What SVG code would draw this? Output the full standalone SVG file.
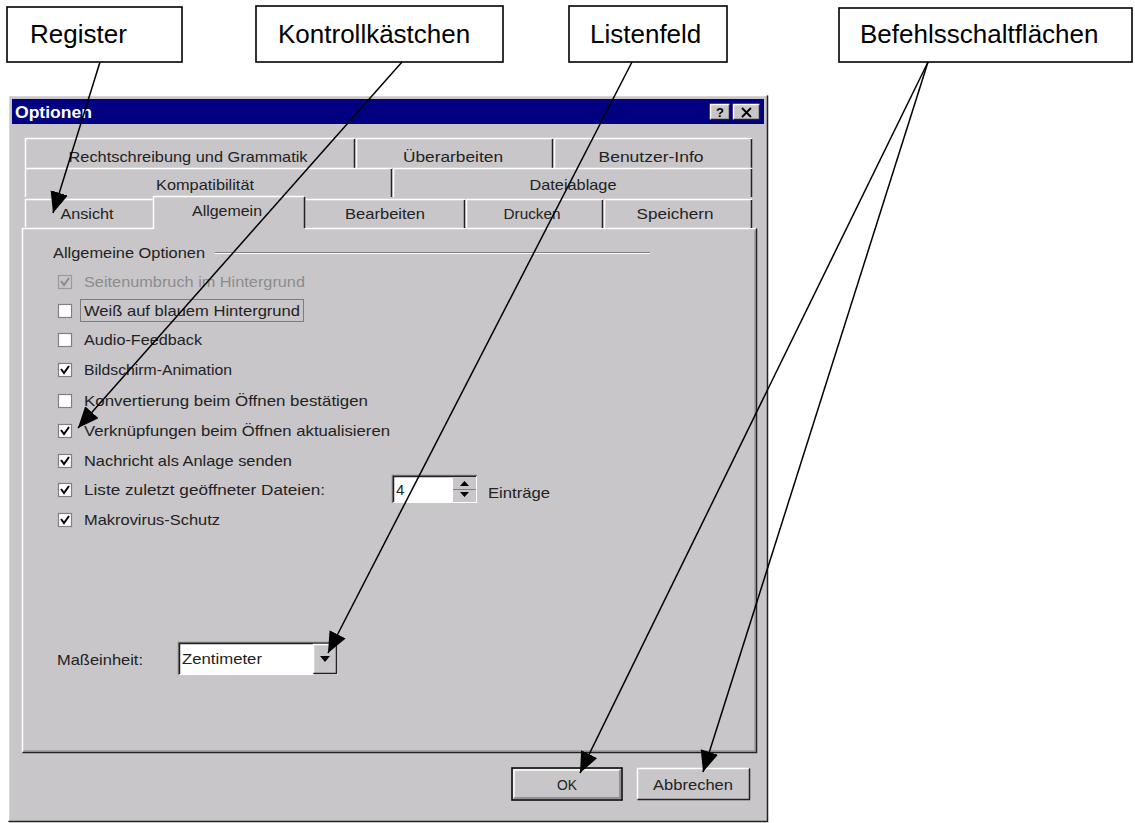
<svg xmlns="http://www.w3.org/2000/svg" width="1135" height="823" viewBox="0 0 1135 823">
<defs>
<marker id="arr" markerUnits="userSpaceOnUse" markerWidth="22" markerHeight="20" refX="21" refY="9" orient="auto">
<path d="M0,0 L21,9 L0,18 z" fill="#000"/>
</marker>
</defs>
<style>
.lbl{fill:#fff;stroke:#000;stroke-width:1.6}
.lt{font-family:"Liberation Sans",Arial,sans-serif;font-size:26px;fill:#000}
.dt{font-family:"Liberation Sans",Arial,sans-serif;font-size:15px;fill:#222}
.face{fill:#c8c6c9}
.hi{stroke:#fff;stroke-width:1.5;fill:none}
.sh{stroke:#808080;stroke-width:1.5;fill:none}
.dk{stroke:#222;stroke-width:1.5;fill:none}
.cb{fill:#fff;stroke:#808080;stroke-width:1.2}
.ck{fill:none;stroke:#000;stroke-width:2}
.con{stroke:#000;stroke-width:1.5;fill:none;marker-end:url(#arr)}
</style>
<rect width="1135" height="823" fill="#fff"/>

<g id="dialog">
<rect x="8" y="95" width="760" height="727" class="face"/>
<path d="M8.5,821 V95.5 H767" class="hi"/>
<path d="M767.5,95.5 V821.5 H8.5" class="dk"/>
<rect x="12" y="99" width="752" height="25" fill="#000080"/>
<text x="15" y="118" font-family="Liberation Sans,Arial,sans-serif" font-size="17" font-weight="bold" fill="#fff" textLength="77" lengthAdjust="spacingAndGlyphs">Optionen</text>
<rect x="710" y="104" width="20" height="16" class="face"/>
<path d="M710.5,119.5 V104.5 H729.5" class="hi"/><path d="M729.5,104.5 V119.5 H710.5" class="dk"/>
<text x="720" y="117" text-anchor="middle" font-family="Liberation Sans,Arial,sans-serif" font-size="13" font-weight="bold" fill="#000">?</text>
<rect x="733" y="104" width="27" height="16" class="face"/>
<path d="M733.5,119.5 V104.5 H759.5" class="hi"/><path d="M759.5,104.5 V119.5 H733.5" class="dk"/>
<path d="M742,108 L751,117 M751,108 L742,117" stroke="#000" stroke-width="1.8"/>

<!-- tab page panel -->
<rect x="22" y="228" width="735" height="525" class="face"/>
<path d="M22.5,752 V228.5 H756" class="hi"/>
<path d="M756.5,228.5 V752.5 H22.5" class="dk"/>
<path d="M755,229.5 V751 H23.5" stroke="#808080" stroke-width="1" fill="none"/>

<!-- row 1 tabs -->
<g id="tab-rechtschreibung">
<path d="M25.5,168 V138.5 H355" class="hi"/><path d="M354.5,139 V168" class="dk"/>
<text x="188" y="162" text-anchor="middle" class="dt" textLength="239" lengthAdjust="spacingAndGlyphs">Rechtschreibung und Grammatik</text>
</g>
<g id="tab-ueberarbeiten">
<path d="M356.5,168 V138.5 H553" class="hi"/><path d="M552.5,139 V168" class="dk"/>
<text x="453" y="162" text-anchor="middle" class="dt" textLength="100" lengthAdjust="spacingAndGlyphs">Überarbeiten</text>
</g>
<g id="tab-benutzer">
<path d="M554.5,168 V138.5 H752" class="hi"/><path d="M751.5,139 V168" class="dk"/>
<text x="651" y="162" text-anchor="middle" class="dt" textLength="105" lengthAdjust="spacingAndGlyphs">Benutzer-Info</text>
</g>
<!-- row 2 tabs -->
<g id="tab-kompat">
<path d="M25.5,197 V168.5 H392" class="hi"/><path d="M391.5,169 V197" class="dk"/>
<text x="205" y="190" text-anchor="middle" class="dt" textLength="98" lengthAdjust="spacingAndGlyphs">Kompatibilität</text>
</g>
<g id="tab-dateiablage">
<path d="M393.5,197 V168.5 H752" class="hi"/><path d="M751.5,169 V197" class="dk"/>
<text x="573" y="190" text-anchor="middle" class="dt" textLength="87" lengthAdjust="spacingAndGlyphs">Dateiablage</text>
</g>
<!-- row 3 tabs -->
<g id="tab-ansicht">
<path d="M25.5,227 V199.5 H153" class="hi"/>
<text x="87" y="219" text-anchor="middle" class="dt" textLength="53" lengthAdjust="spacingAndGlyphs">Ansicht</text>
</g>
<g id="tab-allgemein">
<rect x="153" y="196" width="152" height="34" class="face"/>
<path d="M153.5,229 V196.5 H304" class="hi"/><path d="M304.5,197 V228" class="dk"/>
<text x="227" y="216" text-anchor="middle" class="dt" textLength="70" lengthAdjust="spacingAndGlyphs">Allgemein</text>
</g>
<g id="tab-bearbeiten">
<path d="M306,199.5 H465" class="hi"/><path d="M464.5,200 V228" class="dk"/>
<text x="385" y="219" text-anchor="middle" class="dt" textLength="80" lengthAdjust="spacingAndGlyphs">Bearbeiten</text>
</g>
<g id="tab-drucken">
<path d="M466.5,228 V199.5 H603" class="hi"/><path d="M602.5,200 V228" class="dk"/>
<text x="532" y="219" text-anchor="middle" class="dt" textLength="57" lengthAdjust="spacingAndGlyphs">Drucken</text>
</g>
<g id="tab-speichern">
<path d="M604.5,228 V199.5 H752" class="hi"/><path d="M751.5,200 V228" class="dk"/>
<text x="675" y="219" text-anchor="middle" class="dt" textLength="77" lengthAdjust="spacingAndGlyphs">Speichern</text>
</g>

<!-- group -->
<path d="M215,252.5 H650" stroke="#808080" stroke-width="1"/>
<path d="M215,253.5 H650" stroke="#fff" stroke-width="1"/>
<text x="53" y="258" class="dt" textLength="152" lengthAdjust="spacingAndGlyphs">Allgemeine Optionen</text>

<!-- checkboxes -->
<g id="cb-seitenumbruch">
<rect x="58.5" y="275.5" width="13" height="13" fill="#c8c6c9" stroke="#9a9a9a" stroke-width="1.2"/>
<path d="M61,281 L64,285 L69,278" fill="none" stroke="#8a8a8a" stroke-width="2"/>
<text x="84" y="287" class="dt" fill="#8c8c8c" style="fill:#8c8c8c" textLength="221" lengthAdjust="spacingAndGlyphs">Seitenumbruch im Hintergrund</text>
</g>
<g id="cb-weiss">
<rect x="58.5" y="304.5" width="13" height="13" class="cb"/>
<rect x="80.5" y="299.5" width="223" height="22" fill="none" stroke="#333" stroke-width="1" stroke-dasharray="1 1"/>
<text x="84" y="316" class="dt" textLength="216" lengthAdjust="spacingAndGlyphs">Weiß auf blauem Hintergrund</text>
</g>
<g id="cb-audio">
<rect x="58.5" y="333.5" width="13" height="13" class="cb"/>
<text x="84" y="345" class="dt" textLength="118" lengthAdjust="spacingAndGlyphs">Audio-Feedback</text>
</g>
<g id="cb-bildschirm">
<rect x="58.5" y="363.5" width="13" height="13" class="cb"/>
<path d="M61,369 L64,373 L69,366" class="ck"/>
<text x="84" y="375" class="dt" textLength="148" lengthAdjust="spacingAndGlyphs">Bildschirm-Animation</text>
</g>
<g id="cb-konvertierung">
<rect x="58.5" y="394.5" width="13" height="13" class="cb"/>
<text x="84" y="406" class="dt" textLength="284" lengthAdjust="spacingAndGlyphs">Konvertierung beim Öffnen bestätigen</text>
</g>
<g id="cb-verknuepfungen">
<rect x="58.5" y="424.5" width="13" height="13" class="cb"/>
<path d="M61,430 L64,434 L69,427" class="ck"/>
<text x="84" y="436" class="dt" textLength="306" lengthAdjust="spacingAndGlyphs">Verknüpfungen beim Öffnen aktualisieren</text>
</g>
<g id="cb-nachricht">
<rect x="58.5" y="454.5" width="13" height="13" class="cb"/>
<path d="M61,460 L64,464 L69,457" class="ck"/>
<text x="84" y="466" class="dt" textLength="208" lengthAdjust="spacingAndGlyphs">Nachricht als Anlage senden</text>
</g>
<g id="cb-liste">
<rect x="58.5" y="483.5" width="13" height="13" class="cb"/>
<path d="M61,489 L64,493 L69,486" class="ck"/>
<text x="84" y="495" class="dt" textLength="241" lengthAdjust="spacingAndGlyphs">Liste zuletzt geöffneter Dateien:</text>
</g>
<g id="cb-makro">
<rect x="58.5" y="513.5" width="13" height="13" class="cb"/>
<path d="M61,519 L64,523 L69,516" class="ck"/>
<text x="84" y="525" class="dt" textLength="136" lengthAdjust="spacingAndGlyphs">Makrovirus-Schutz</text>
</g>

<!-- spin box -->
<g id="spin">
<rect x="392" y="475" width="85" height="28" fill="#fff"/>
<path d="M392.5,503 V475.5 H477" class="sh"/>
<path d="M393.5,502 V476.5 H476" class="dk" stroke-width="1"/>
<text x="396" y="495" class="dt">4</text>
<rect x="453" y="477" width="23" height="25" class="face"/>
<path d="M453,489.5 H476" stroke="#808080" stroke-width="1"/>
<path d="M460,486 L464.5,481 L469,486 z M460,492 L469,492 L464.5,497 z" fill="#000"/>
<text x="488" y="498" class="dt" textLength="62" lengthAdjust="spacingAndGlyphs">Einträge</text>
</g>

<!-- Masseinheit -->
<g id="masseinheit">
<text x="57" y="665" class="dt" textLength="86" lengthAdjust="spacingAndGlyphs">Maßeinheit:</text>
<rect x="178" y="642" width="160" height="33" fill="#fff"/>
<path d="M178.5,675 V642.5 H338" class="sh"/>
<path d="M179.5,674 V643.5 H337" class="dk" stroke-width="1"/>
<text x="182" y="664" class="dt" textLength="80" lengthAdjust="spacingAndGlyphs">Zentimeter</text>
<rect x="313" y="644" width="24" height="30" class="face"/>
<path d="M313.5,673 V644.5 H336" class="hi"/>
<path d="M336.5,644.5 V673.5 H313.5" class="dk"/>
<path d="M320,656 L330,656 L325,662 z" fill="#000"/>
</g>

<!-- buttons -->
<g id="btn-ok">
<rect x="512" y="768" width="110" height="32" class="face" stroke="#000" stroke-width="1.5"/>
<path d="M514,798 V770 H620" class="hi"/>
<path d="M620,770 V798 H514" class="sh"/>
<text x="567" y="790" text-anchor="middle" class="dt" textLength="20" lengthAdjust="spacingAndGlyphs">OK</text>
</g>
<g id="btn-abbrechen">
<rect x="637" y="768" width="113" height="32" class="face"/>
<path d="M637.5,799 V768.5 H749" class="hi"/>
<path d="M749.5,768.5 V799.5 H637.5" class="dk"/>
<text x="693" y="790" text-anchor="middle" class="dt" textLength="80" lengthAdjust="spacingAndGlyphs">Abbrechen</text>
</g>
</g>

<!-- callout labels -->
<g id="label-register">
<rect x="7" y="7" width="175" height="55" class="lbl"/>
<text x="30" y="43" class="lt">Register</text>
</g>
<g id="label-kontroll">
<rect x="256" y="6" width="247" height="56" class="lbl"/>
<text x="278" y="43" class="lt">Kontrollkästchen</text>
</g>
<g id="label-listenfeld">
<rect x="569" y="6" width="158" height="56" class="lbl"/>
<text x="590" y="43" class="lt">Listenfeld</text>
</g>
<g id="label-befehl">
<rect x="839" y="8" width="293" height="54" class="lbl"/>
<text x="860" y="43" class="lt">Befehlsschaltflächen</text>
</g>

<g id="connectors">
<path d="M100,62 L53,213" class="con"/>
<path d="M402,62 L78,428" class="con"/>
<path d="M632,62 L328,653" class="con"/>
<path d="M928,62 L580,773" class="con"/>
<path d="M928,62 L703,772" class="con"/>
</g>
</svg>
